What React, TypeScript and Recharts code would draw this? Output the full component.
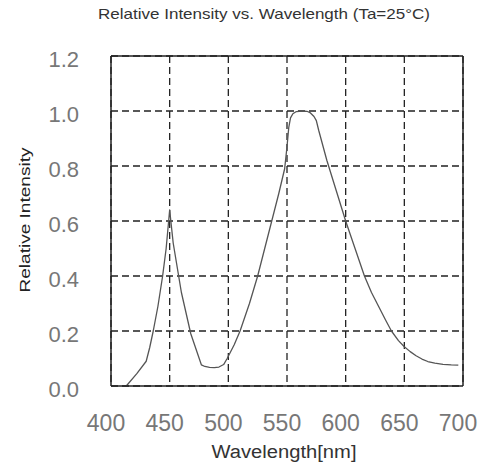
import React from 'react';
import { LineChart, Line, XAxis, YAxis, CartesianGrid, ReferenceLine } from 'recharts';

const wavelengths = [
  413, 422, 430, 433, 436, 440, 444, 447, 450, 453, 460, 468, 477, 480, 484, 488, 492, 496, 499,
  505, 510, 518, 525, 531, 537, 543, 548, 550, 551.5, 553, 555, 558, 563, 567, 570, 573, 575, 577,
  584, 592, 600, 608, 616, 622, 628, 634, 639, 645, 650, 655, 660, 665, 670, 676, 683, 690, 696,
];
const intensity = [
  0, 0.045, 0.09, 0.14, 0.2, 0.29, 0.4, 0.5, 0.64, 0.52, 0.34, 0.19, 0.077, 0.071, 0.068, 0.067,
  0.069, 0.078, 0.1, 0.15, 0.2, 0.3, 0.4, 0.5, 0.6, 0.7, 0.79, 0.87, 0.94, 0.975, 0.99, 0.998, 1.0,
  0.999, 0.993, 0.98, 0.965, 0.93, 0.82, 0.71, 0.6, 0.5, 0.4, 0.34, 0.29, 0.24, 0.2, 0.165, 0.143,
  0.125, 0.11, 0.098, 0.089, 0.083, 0.079, 0.077, 0.076,
];
const xTicks = [400, 450, 500, 550, 600, 650, 700];
const yTicks = [0, 0.2, 0.4, 0.6, 0.8, 1.0, 1.2];

const data = wavelengths.map((w, i) => ({ w, v: intensity[i] }));

const FONT = '"Liberation Sans", Arial, sans-serif';

const XTick = ({ x, y, payload }: any) => (
  <text x={x} y={y} dx={-5} dy={17} textAnchor="middle" fontFamily={FONT} fontSize={23} fill="#777">
    {payload.value}
  </text>
);

const YTick = ({ x, y, payload }: any) => (
  <text x={x} y={y} dy={11} textAnchor="end" fontFamily={FONT} fontSize={22} fill="#777">
    {Number(payload.value).toFixed(1)}
  </text>
);

export default function App() {
  return (
    <div style={{ position: 'absolute', left: 0, top: 0, width: 479, height: 467, background: '#fff' }}>
      <LineChart width={479} height={467} data={data} margin={{ top: 56, right: 16, bottom: 21, left: 0 }}>
        <CartesianGrid stroke="#222" strokeWidth={1.3} strokeDasharray="7 4" />
        <XAxis
          dataKey="w"
          type="number"
          domain={[400, 700]}
          ticks={xTicks}
          height={60}
          tickSize={0}
          tickMargin={28}
          tick={<XTick />}
          axisLine={{ stroke: '#222', strokeWidth: 1.5 }}
        />
        <YAxis
          type="number"
          domain={[0, 1.2]}
          ticks={yTicks}
          width={111}
          tickSize={0}
          tickMargin={32}
          tick={<YTick />}
          axisLine={{ stroke: '#222', strokeWidth: 1.5 }}
        />
        <ReferenceLine y={1.2} stroke="#222" strokeWidth={1.5} />
        <ReferenceLine x={700} stroke="#222" strokeWidth={1.5} />
        <Line
          type="linear"
          dataKey="v"
          stroke="#555"
          strokeWidth={1.3}
          strokeLinejoin="round"
          dot={false}
          isAnimationActive={false}
        />
      </LineChart>
      <svg
        width={479}
        height={467}
        style={{ position: 'absolute', left: 0, top: 0, pointerEvents: 'none' }}
      >
        <text x={264} y={19} textAnchor="middle" fontFamily={FONT} fontSize={14.5} fill="#333" textLength={332} lengthAdjust="spacingAndGlyphs">
          Relative Intensity vs. Wavelength (Ta=25°C)
        </text>
        <text
          transform="translate(30,220) rotate(-90)"
          textAnchor="middle"
          fontFamily={FONT}
          fontSize={15}
          fill="#222"
          textLength={145}
          lengthAdjust="spacingAndGlyphs"
        >
          Relative Intensity
        </text>
        <text x={284} y={458} textAnchor="middle" fontFamily={FONT} fontSize={18} fill="#333" textLength={145} lengthAdjust="spacingAndGlyphs">
          Wavelength[nm]
        </text>
      </svg>
    </div>
  );
}
